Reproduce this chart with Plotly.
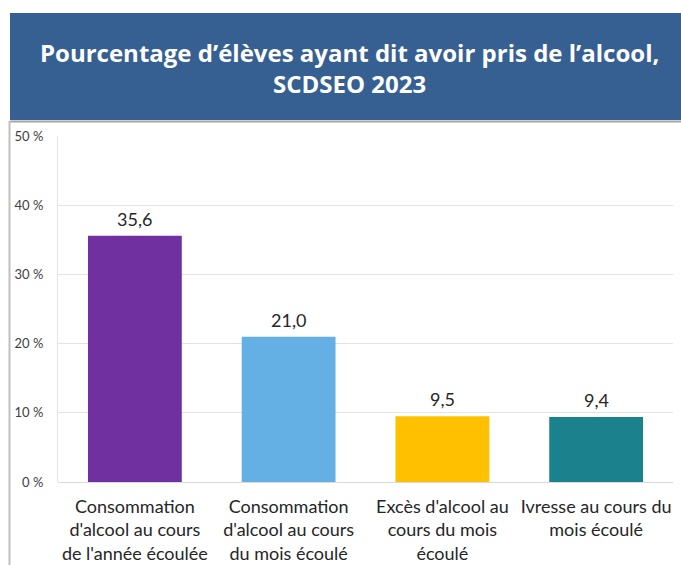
import plotly.graph_objects as go

categories = [
    "Consommation<br>d'alcool au cours<br>de l'année écoulée",
    "Consommation<br>d'alcool au cours<br>du mois écoulé",
    "Excès d'alcool au<br>cours du mois<br>écoulé",
    "Ivresse au cours du<br>mois écoulé",
]
values = [35.6, 21.0, 9.5, 9.4]
colors = ["#7030A0", "#64AFE3", "#FFC000", "#1B818C"]
tick_vals = [0, 10, 20, 30, 40, 50]
tick_text = [f"{v} %" for v in tick_vals]
value_text = [f"{v:.1f}".replace(".", ",") for v in values]

W, H = 681, 565
L, R, T, B = 58, 8, 136, 83
pw, ph = W - L - R, H - T - B

def px_x(x):
    return (x - L) / pw

def px_y(y):
    return (H - B - y) / ph

fig = go.Figure()
fig.add_trace(go.Bar(
    x=categories, y=values,
    marker=dict(color=colors, line=dict(width=0)),
    width=0.61,
    hoverinfo="skip",
))

annotations = [
    dict(x=c, y=v, xref="x", yref="y", text=t, showarrow=False,
         xanchor="center", yanchor="bottom", yshift=4,
         font=dict(family="Lato, sans-serif", size=18, color="#262626"))
    for c, v, t in zip(categories, values, value_text)
]
annotations.append(
    dict(xref="paper", yref="paper", x=px_x(349), y=px_y(68),
         text="Pourcentage d’élèves ayant dit avoir pris de l’alcool,<br>SCDSEO 2023",
         showarrow=False, xanchor="center", yanchor="middle",
         font=dict(family="Open Sans, sans-serif", size=24, color="white", weight="bold"),
         align="center")
)

fig.update_layout(
    width=W, height=H,
    margin=dict(l=L, r=R, t=T, b=B, autoexpand=False),
    paper_bgcolor="white", plot_bgcolor="white",
    showlegend=False,
    bargap=0.39,
    xaxis=dict(
        tickfont=dict(family="Lato, sans-serif", size=18, color="#262626"),
        showline=False, ticks="", showgrid=False,
        ticklabelstandoff=12, automargin=False,
    ),
    yaxis=dict(
        range=[0, 50], tickmode="array", tickvals=tick_vals, ticktext=tick_text,
        tickfont=dict(family="Lato, sans-serif", size=13, color="#404040"),
        showgrid=True, gridcolor="#E3E3E3", gridwidth=1,
        showline=True, linecolor="#E3E3E3", linewidth=1,
        zeroline=True, zerolinecolor="#D9D9D9", zerolinewidth=1,
        ticks="", ticklabelstandoff=11, automargin=False,
    ),
    shapes=[
        dict(type="rect", xref="paper", yref="paper",
             x0=px_x(10), x1=px_x(681), y0=px_y(120), y1=px_y(13),
             fillcolor="#366092", line=dict(width=0), layer="below"),
        dict(type="line", xref="paper", yref="paper",
             x0=px_x(10), x1=px_x(681), y0=px_y(121.5), y1=px_y(121.5),
             line=dict(color="#A6A6A6", width=2)),
        dict(type="line", xref="paper", yref="paper",
             x0=px_x(9.5), x1=px_x(9.5), y0=px_y(121), y1=px_y(565),
             line=dict(color="#BFBFBF", width=2)),
    ],
    annotations=annotations,
)

fig.write_html(
    "out.html",
    config={"displayModeBar": False},
    post_script="document.body.style.margin='0';document.body.style.overflow='hidden';",
)
